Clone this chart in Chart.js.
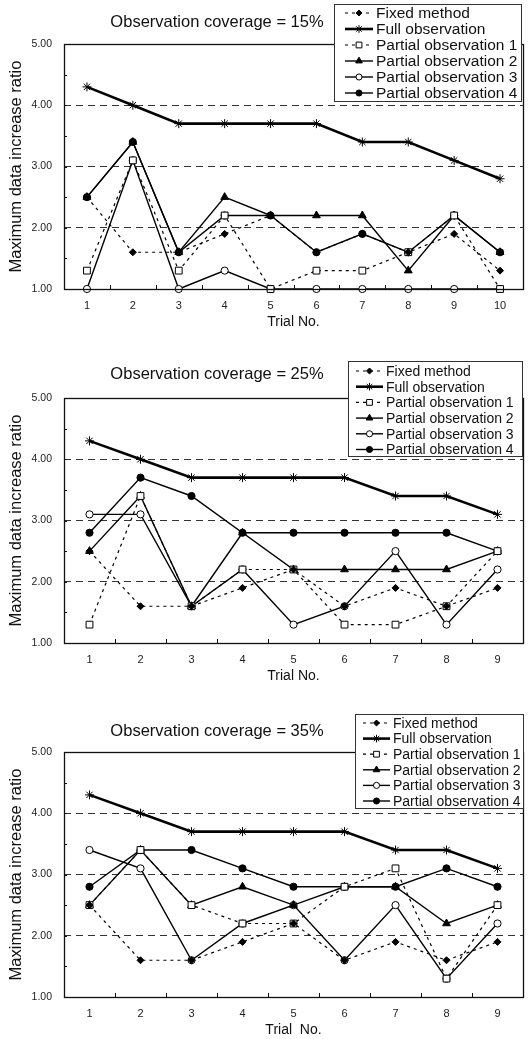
<!DOCTYPE html>
<html>
<head>
<meta charset="UTF-8">
<title>Maximum data increase ratio</title>
<script src="https://cdn.jsdelivr.net/npm/chart.js@4/dist/chart.umd.min.js"></script>
<style>
  body { margin: 0; background: #fff; }
  .panel { position: absolute; left: 0; width: 529px; }
</style>
</head>
<body>
<div class="panel" style="top:0;height:340px"><canvas id="c15"></canvas></div>
<div class="panel" style="top:340px;height:355px"><canvas id="c25"></canvas></div>
<div class="panel" style="top:695px;height:344px"><canvas id="c35"></canvas></div>

<script>
var seriesNames = ['Fixed method', 'Full observation', 'Partial observation 1',
                   'Partial observation 2', 'Partial observation 3', 'Partial observation 4'];

// coverage = 15%
var trials15 = ['1', '2', '3', '4', '5', '6', '7', '8', '9', '10'];
var fixed15 = [2.5, 1.6, 1.6, 1.9, 2.2, 1.6, 1.9, 1.6, 1.9, 1.3];
var full15  = [4.3, 4.0, 3.7, 3.7, 3.7, 3.7, 3.4, 3.4, 3.1, 2.8];
var part1_15 = [1.3, 3.1, 1.3, 2.2, 1.0, 1.3, 1.3, 1.6, 2.2, 1.0];
var part2_15 = [2.5, 3.4, 1.6, 2.5, 2.2, 2.2, 2.2, 1.3, 2.2, 1.6];
var part3_15 = [1.0, 3.1, 1.0, 1.3, 1.0, 1.0, 1.0, 1.0, 1.0, 1.0];
var part4_15 = [2.5, 3.4, 1.6, 2.2, 2.2, 1.6, 1.9, 1.6, 2.2, 1.6];

// coverage = 25%
var trials25 = ['1', '2', '3', '4', '5', '6', '7', '8', '9'];
var fixed25 = [2.5, 1.6, 1.6, 1.9, 2.2, 1.6, 1.9, 1.6, 1.9];
var full25  = [4.3, 4.0, 3.7, 3.7, 3.7, 3.7, 3.4, 3.4, 3.1];
var part1_25 = [1.3, 3.4, 1.6, 2.2, 2.2, 1.3, 1.3, 1.6, 2.5];
var part2_25 = [2.5, 3.4, 1.6, 2.8, 2.2, 2.2, 2.2, 2.2, 2.5];
var part3_25 = [3.1, 3.1, 1.6, 2.2, 1.3, 1.6, 2.5, 1.3, 2.2];
var part4_25 = [2.8, 3.7, 3.4, 2.8, 2.8, 2.8, 2.8, 2.8, 2.5];

// coverage = 35%
var trials35 = ['1', '2', '3', '4', '5', '6', '7', '8', '9'];
var fixed35 = [2.5, 1.6, 1.6, 1.9, 2.2, 1.6, 1.9, 1.6, 1.9];
var full35  = [4.3, 4.0, 3.7, 3.7, 3.7, 3.7, 3.4, 3.4, 3.1];
var part1_35 = [2.5, 3.4, 2.5, 2.2, 2.2, 2.8, 3.1, 1.3, 2.5];
var part2_35 = [2.5, 3.4, 2.5, 2.8, 2.5, 2.8, 2.8, 2.2, 2.5];
var part3_35 = [3.4, 3.1, 1.6, 2.2, 2.5, 1.6, 2.5, 1.3, 2.2];
var part4_35 = [2.8, 3.4, 3.4, 3.1, 2.8, 2.8, 2.8, 3.1, 2.8];

var yMin = 1, yMax = 5;

// line / marker look of each series (same order as seriesNames)
var styles = [
  { dash: [3, 4], width: 1.2, point: 'rectRot',  radius: 3.5, fill: '#000' },
  { dash: [],     width: 2.6, point: 'star',     radius: 4.5, fill: '#000' },
  { dash: [3, 4], width: 1.2, point: 'rect',     radius: 4.8, fill: '#fff' },
  { dash: [],     width: 1.4, point: 'triangle', radius: 4.5, fill: '#000' },
  { dash: [],     width: 1.4, point: 'circle',   radius: 3.6, fill: '#fff' },
  { dash: [],     width: 1.4, point: 'circle',   radius: 3.6, fill: '#000' }
];

var FONT = '"Liberation Sans", Arial, sans-serif';

// frame, inner tick marks, title and boxed legend
var decorPlugin = {
  id: 'decor',
  afterDraw: function (chart) {
    var o = chart.options.plugins.decor;
    var ctx = chart.ctx, a = chart.chartArea;
    var xs = chart.scales.x, ys = chart.scales.y;
    ctx.save();
    ctx.strokeStyle = '#111';
    ctx.lineWidth = 1;
    ctx.setLineDash([]);
    ctx.beginPath();
    for (var v = yMin + 0.5; v < yMax; v += 0.5) {
      var py = Math.round(ys.getPixelForValue(v)) + 0.5;
      ctx.moveTo(a.left, py);
      ctx.lineTo(a.left + 3, py);
    }
    for (var i = 1; i < xs.ticks.length; i++) {
      var px = Math.round((xs.getPixelForTick(i - 1) + xs.getPixelForTick(i)) / 2) + 0.5;
      ctx.moveTo(px, a.bottom);
      ctx.lineTo(px, a.bottom - 4);
    }
    ctx.stroke();
    ctx.lineWidth = 1.3;
    ctx.strokeRect(Math.round(a.left) + 0.5, Math.round(a.top) + 0.5,
                   Math.round(a.right - a.left), Math.round(a.bottom - a.top));

    // title
    ctx.fillStyle = '#111';
    ctx.font = o.titleSize + 'px ' + FONT;
    ctx.textAlign = 'center';
    ctx.textBaseline = 'middle';
    ctx.fillText(o.title, o.titleX, o.titleY);

    // legend
    var L = o.legend;
    ctx.fillStyle = '#fff';
    ctx.fillRect(L.x, L.y, L.w, L.h);
    ctx.lineWidth = 1;
    ctx.strokeStyle = '#333';
    ctx.strokeRect(L.x + 0.5, L.y + 0.5, L.w, L.h);
    ctx.font = L.size + 'px ' + FONT;
    ctx.textAlign = 'left';
    chart.data.datasets.forEach(function (ds, k) {
      var st = styles[k];
      var y = L.first + k * L.step;
      ctx.strokeStyle = '#000';
      ctx.lineWidth = st.width;
      ctx.setLineDash(st.dash);
      ctx.beginPath();
      ctx.moveTo(L.x0, y);
      ctx.lineTo(L.x1, y);
      ctx.stroke();
      ctx.setLineDash([]);
      ctx.lineWidth = 1;
      ctx.fillStyle = st.fill;
      Chart.helpers.drawPoint(ctx, { pointStyle: st.point, radius: st.radius * 0.85, rotation: 0, borderWidth: 1 },
                              (L.x0 + L.x1) / 2, y);
      ctx.fillStyle = '#111';
      ctx.fillText(ds.label, L.text, y + 1);
    });
    ctx.restore();
  }
};

function buildChart(id, labels, series, p) {
  var datasets = series.map(function (values, k) {
    var st = styles[k];
    return {
      label: seriesNames[k],
      data: values,
      borderColor: '#000',
      borderWidth: st.width,
      borderDash: st.dash,
      pointStyle: st.point,
      pointRadius: st.radius,
      pointBorderWidth: 1,
      pointBorderColor: '#000',
      pointBackgroundColor: st.fill,
      tension: 0,
      fill: false,
      clip: false
    };
  });

  return new Chart(document.getElementById(id), {
    type: 'line',
    data: { labels: labels, datasets: datasets },
    plugins: [decorPlugin],
    options: {
      responsive: true,
      maintainAspectRatio: false,
      animation: false,
      layout: { padding: { top: p.top, right: 6, bottom: p.bottom, left: 0 } },
      plugins: {
        legend: { display: false },
        title: { display: false },
        tooltip: { enabled: false },
        decor: p.decor
      },
      scales: {
        x: {
          offset: true,
          grid: { display: false },
          border: { display: false },
          ticks: { color: '#222', padding: 2, font: { family: FONT, size: 11 } },
          title: { display: true, text: p.xTitle, color: '#111', padding: { top: 0, bottom: 0 },
                   font: { family: FONT, size: 14 } },
          afterFit: function (s) { s.height = 42; }
        },
        y: {
          min: yMin,
          max: yMax,
          ticks: {
            stepSize: 1,
            padding: 12,
            color: '#222',
            font: { family: FONT, size: 10.5 },
            callback: function (v) { return Number(v).toFixed(2); }
          },
          grid: {
            drawTicks: false,
            lineWidth: 1,
            color: function (c) {
              var v = c.tick ? c.tick.value : 0;
              return (v > yMin && v < yMax) ? '#333' : 'rgba(0,0,0,0)';
            }
          },
          border: { display: false, dash: [7, 5] },
          title: { display: true, text: 'Maximum data increase ratio', color: '#111',
                   padding: { top: 7, bottom: 0 }, font: { family: FONT, size: 16.5 } },
          afterFit: function (s) { s.width = 64; }
        }
      }
    }
  });
}

window.onload = function () {
  buildChart('c15', trials15, [fixed15, full15, part1_15, part2_15, part3_15, part4_15], {
    top: 44, bottom: 9, xTitle: 'Trial No.',
    decor: {
      title: 'Observation coverage = 15%', titleSize: 16.5, titleX: 217, titleY: 22,
      legend: { x: 334, y: 4, w: 187, h: 97, first: 13, step: 16, x0: 345, x1: 373, text: 376, size: 15.5 }
    }
  });
  buildChart('c25', trials25, [fixed25, full25, part1_25, part2_25, part3_25, part4_25], {
    top: 58, bottom: 10, xTitle: 'Trial No.',
    decor: {
      title: 'Observation coverage = 25%', titleSize: 16.5, titleX: 217, titleY: 34,
      legend: { x: 348, y: 21, w: 174, h: 95, first: 31, step: 15.7, x0: 356, x1: 383, text: 386, size: 14 }
    }
  });
  buildChart('c35', trials35, [fixed35, full35, part1_35, part2_35, part3_35, part4_35], {
    top: 57, bottom: 0, xTitle: 'Trial  No.',
    decor: {
      title: 'Observation coverage = 35%', titleSize: 16.5, titleX: 217, titleY: 36,
      legend: { x: 355, y: 19, w: 168, h: 94, first: 28, step: 15.6, x0: 363, x1: 390, text: 393, size: 14 }
    }
  });
};
</script>
</body>
</html>
